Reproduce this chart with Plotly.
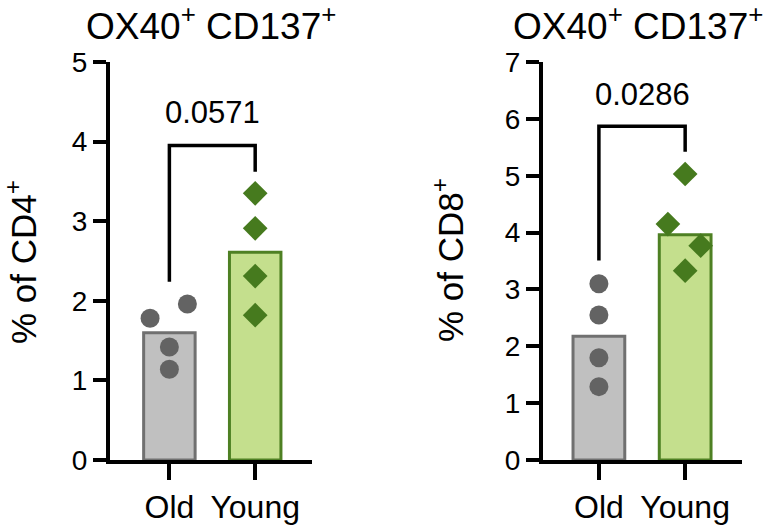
import numpy as np
import plotly.graph_objects as go

# ---- data ----
categories = ["Old", "Young"]
cd4_old = [1.78, 1.96, 1.42, 1.14]
cd4_young = [3.35, 2.91, 2.31, 1.82]
cd8_old = [3.10, 2.55, 1.80, 1.29]
cd8_young = [5.03, 4.15, 3.77, 3.33]
p_values = ["0.0571", "0.0286"]
titles = ["OX40<sup>+</sup> CD137<sup>+</sup>", "OX40<sup>+</sup> CD137<sup>+</sup>"]
ylabels = ["% of CD4<sup>+</sup>", "% of CD8<sup>+</sup>"]
yticks_left = [0, 1, 2, 3, 4, 5]
yticks_right = [0, 1, 2, 3, 4, 5, 6, 7]

# jitter offsets (style) for point placement
jit_cd4_old = [-0.225, 0.21, 0.0, 0.0]
jit_cd4_young = [0.0, 0.0, 0.0, 0.0]
jit_cd8_old = [0.0, 0.0, 0.0, 0.0]
jit_cd8_young = [0.0, -0.2, 0.18, 0.0]

FONT = "Arial, Liberation Sans, sans-serif"
GRAY_FILL = "#c0c0c0"
GRAY_LINE = "#707070"
GRAY_DOT = "#636363"
GREEN_FILL = "#c4df8d"
GREEN_LINE = "#4e8023"
GREEN_DOT = "#467a1e"

fig = go.Figure()

W, H = 771, 525
def px_x(p):
    return p / W
def px_y(p):
    return 1 - p / H

panels = [
    dict(old=cd4_old, young=cd4_young, jo=jit_cd4_old, jy=jit_cd4_young,
         xa="x", ya="y", p=p_values[0],
         br=(2.24, 3.95, 3.62), ptext=4.36),
    dict(old=cd8_old, young=cd8_young, jo=jit_cd8_old, jy=jit_cd8_young,
         xa="x2", ya="y2", p=p_values[1],
         br=(3.51, 5.87, 5.42), ptext=6.42),
]

for pn in panels:
    meds = [float(np.median(pn["old"])), float(np.median(pn["young"]))]
    fig.add_trace(go.Bar(
        x=[0, 1], y=meds, width=0.6,
        marker=dict(color=[GRAY_FILL, GREEN_FILL],
                    line=dict(color=[GRAY_LINE, GREEN_LINE], width=3)),
        xaxis=pn["xa"], yaxis=pn["ya"], showlegend=False, hoverinfo="skip"))
    fig.add_trace(go.Scatter(
        x=[0 + j for j in pn["jo"]], y=pn["old"], mode="markers",
        marker=dict(symbol="circle", size=19, color=GRAY_DOT),
        xaxis=pn["xa"], yaxis=pn["ya"], showlegend=False, cliponaxis=False))
    fig.add_trace(go.Scatter(
        x=[1 + j for j in pn["jy"]], y=pn["young"], mode="markers",
        marker=dict(symbol="diamond", size=19, color=GREEN_DOT),
        xaxis=pn["xa"], yaxis=pn["ya"], showlegend=False, cliponaxis=False))
    b0, btop, b1 = pn["br"]
    fig.add_trace(go.Scatter(
        x=[0, 0, 1, 1], y=[b0, btop, btop, b1], mode="lines",
        line=dict(color="black", width=3.5),
        xaxis=pn["xa"], yaxis=pn["ya"], showlegend=False, cliponaxis=False,
        hoverinfo="skip"))
    fig.add_annotation(x=0.5, y=pn["ptext"], xref=pn["xa"], yref=pn["ya"],
                       text=pn["p"], showarrow=False,
                       xanchor="center", yanchor="middle",
                       font=dict(family=FONT, size=31, color="black"))

axis_common = dict(showline=True, linecolor="black", linewidth=4,
                   ticks="outside", tickcolor="black", tickwidth=4,
                   showgrid=False, zeroline=False, automargin=False,
                   tickfont=dict(family=FONT, size=32, color="black"))
ytickfont = dict(family=FONT, size=28, color="black")

fig.update_layout(
    width=W, height=H,
    margin=dict(l=0, r=0, t=0, b=0, pad=0, autoexpand=False),
    paper_bgcolor="white", plot_bgcolor="white",
    xaxis=dict(domain=[px_x(110), px_x(312)], range=[-0.692, 1.662],
               tickvals=[0, 1], ticktext=categories, ticklen=16,
               anchor="y", **axis_common),
    yaxis=dict(domain=[px_y(460), px_y(62)], range=[0, 5],
               tickvals=yticks_left, ticklen=13, anchor="x",
               **{**axis_common, "tickfont": ytickfont}),
    xaxis2=dict(domain=[px_x(543), px_x(742)], range=[-0.648, 1.659],
                tickvals=[0, 1], ticktext=categories, ticklen=16,
                anchor="y2", **axis_common),
    yaxis2=dict(domain=[px_y(460), px_y(62)], range=[0, 7],
                tickvals=yticks_right, ticklen=13, anchor="x2",
                **{**axis_common, "tickfont": ytickfont}),
)

# titles
for tx, t in zip([211, 638], titles):
    fig.add_annotation(x=px_x(tx), y=px_y(24), xref="paper", yref="paper",
                       text=t, showarrow=False, xanchor="center", yanchor="middle",
                       font=dict(family=FONT, size=37, color="black"))
# y labels
for (lx, ly), t in zip([(21, 262), (448, 260)], ylabels):
    fig.add_annotation(x=px_x(lx), y=px_y(ly), xref="paper", yref="paper",
                       text=t, showarrow=False, textangle=-90,
                       xanchor="center", yanchor="middle",
                       font=dict(family=FONT, size=35, color="black"))

fig.write_html("out.html", config={"displayModeBar": False},
               post_script="document.body.style.margin='0';document.body.style.padding='0';")
